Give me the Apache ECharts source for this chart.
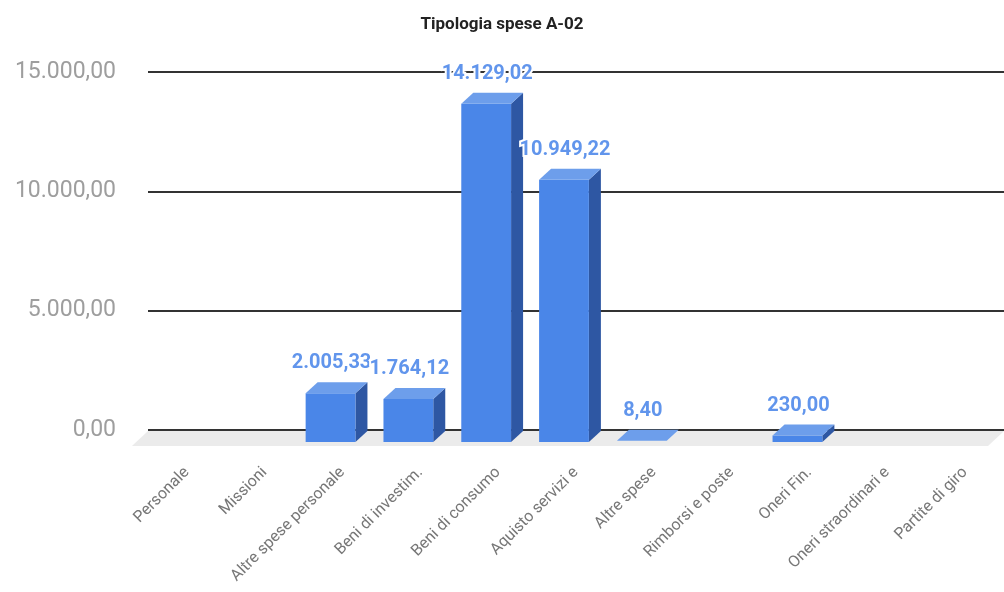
<!DOCTYPE html>
<html>
<head>
<meta charset="utf-8">
<script src="https://cdn.jsdelivr.net/npm/echarts@6/dist/echarts.min.js"></script>
<style>html,body{margin:0;padding:0;background:#fff;}#chart{width:1004px;height:592px;}</style>
</head>
<body>
<div id="chart"></div>
<script>
const categories = ['Personale','Missioni','Altre spese personale','Beni di investim.','Beni di consumo','Aquisto servizi e','Altre spese','Rimborsi e poste','Oneri Fin.','Oneri straordinari e','Partite di giro'];
const values = [0, 0, 2005.33, 1764.12, 14129.02, 10949.22, 8.40, 0, 230.00, 0, 0];
const yTicks = [0, 5000, 10000, 15000];
const titleText = 'Tipologia spese A-02';

function fmtIt(v){
  const parts = Number(v).toFixed(2).split('.');
  parts[0] = parts[0].replace(/\B(?=(\d{3})+(?!\d))/g, '.');
  return parts[0] + ',' + parts[1];
}

const DX = 12, DY = 11;
const FRONT = '#4a86e8', TOP = '#6d9eeb', SIDE = '#2e57a3';

const chart = echarts.init(document.getElementById('chart'));
chart.setOption({
  backgroundColor: '#fff',
  animation: false,
  title: {
    text: titleText, left: 'center', top: 11,
    textStyle: {fontFamily: 'Roboto', fontWeight: 'bold', fontSize: 17, color: '#222'}
  },
  grid: {left: 148, right: -4, top: 72, bottom: 162, containLabel: false},
  xAxis: {
    type: 'category', data: categories,
    axisLine: {show: false}, axisTick: {show: false},
    axisLabel: {rotate: 45, margin: 40, interval: 0, color: '#777', fontFamily: 'Roboto', fontSize: 16}
  },
  yAxis: {
    type: 'value', min: yTicks[0], max: yTicks[yTicks.length-1], interval: yTicks[1]-yTicks[0],
    axisLine: {show: false}, axisTick: {show: false},
    axisLabel: {margin: 32, color: '#9e9e9e', fontFamily: 'Roboto', fontSize: 23, formatter: v => fmtIt(v)},
    splitLine: {lineStyle: {color: '#333', width: 2}}
  },
  series: [
    {
      type: 'custom', z: 1, silent: true,
      data: [0],
      renderItem: function(params, api){
        const cs = params.coordSys;
        const base = api.coord([0, 0])[1];
        const x0 = cs.x, x1 = cs.x + cs.width;
        const fd = 16;
        return {
          type: 'polygon',
          shape: {points: [[x0, base+1], [x1, base+1], [x1-fd, base+fd], [x0-fd, base+fd]]},
          style: {fill: '#ebebeb'}
        };
      }
    },
    {
      type: 'custom', z: 3, silent: true,
      data: values.map((v, i) => [i, v]),
      renderItem: function(params, api){
        const idx = api.value(0), v = api.value(1);
        if (!v) return null;
        const c = api.coord([idx, v]);
        const c0 = api.coord([idx, 0]);
        const bw = api.size([1, 0])[0] * 0.64;
        const bl = c[0] - bw/2, br = c[0] + bw/2, top = c[1], base = c0[1];
        const fl = bl - DX, fr = br - DX, ft = top + DY, fb = base + DY + 1;
        const children = [];
        if (fb - ft > 1.5) {
          children.push({type: 'polygon', shape: {points: [[fr, ft], [br, top], [br, base+1], [fr, fb]]}, style: {fill: SIDE}});
          children.push({type: 'rect', shape: {x: fl, y: ft, width: bw, height: fb - ft}, style: {fill: FRONT}});
        }
        children.push({type: 'polygon', shape: {points: [[fl, ft], [fr, ft], [br, top], [bl, top]]}, style: {fill: TOP}});
        children.push({
          type: 'text', z2: 10,
          style: {
            text: fmtIt(v), x: (fl + fr)/2 + 1, y: top - 19,
            align: 'center', verticalAlign: 'middle',
            fill: '#6195ec', font: 'bold 20px Roboto',
            stroke: '#fff', lineWidth: 4
          }
        });
        return {type: 'group', children: children};
      }
    }
  ]
});
</script>
</body>
</html>
